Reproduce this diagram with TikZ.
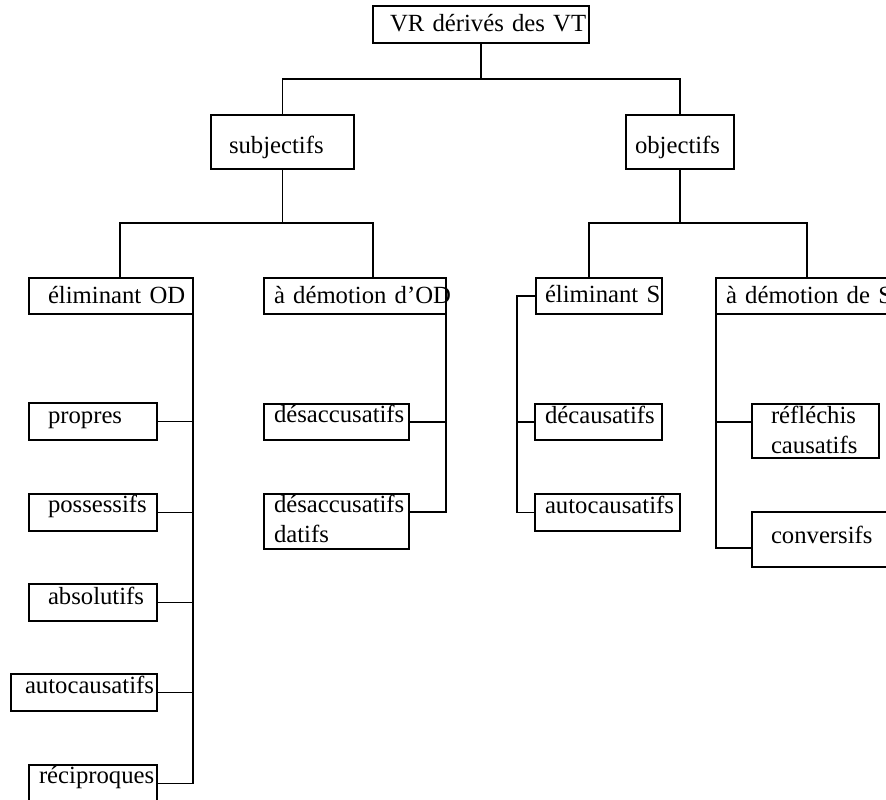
\documentclass[tikz,border=0pt]{standalone}
\usepackage{fontspec}
\setmainfont{Liberation Serif}
\begin{document}
\begin{tikzpicture}[x=1pt,y=-1pt,
  box/.style={draw, line width=1.3pt, rectangle, inner sep=0pt, outer sep=0pt,
    anchor=north west, align=left, font=\fontsize{24.7}{30}\selectfont},
  conn/.style={line width=1.3pt}]
\useasboundingbox (0,0) rectangle (886,800);
\clip (0,0) rectangle (886,800);
% level 0 and 1
\node[box, text width=216pt, text height=26pt, text depth=11pt] (top) at (373,6) {\hspace*{17pt}VR dérivés des VT};
\node[box, text width=143pt, text height=38pt, text depth=16pt] (subj) at (211,115) {\hspace*{18pt}subjectifs};
\node[box, text width=108pt, text height=38pt, text depth=16pt] (obj) at (626,115) {\hspace*{9pt}objectifs};
% level 2
\node[box, text width=164pt, text height=25pt, text depth=11pt] (elimOD) at (29,278) {\hspace*{19pt}éliminant OD};
\node[box, text width=182pt, text height=25pt, text depth=11pt] (demOD) at (264,278) {\mbox{\hspace*{10pt}à démotion d’OD}};
\node[box, text width=126pt, text height=24pt, text depth=12pt] (elimS) at (536,278) {\hspace*{9pt}éliminant S};
\node[box, text width=190pt, text height=25pt, text depth=11pt] (demS) at (716,278) {\mbox{\hspace*{10pt}à démotion de S}};
% leaves under elimOD
\node[box, text width=128pt, text height=20pt, text depth=17pt] (propres) at (29,403) {\hspace*{19pt}propres};
\node[box, text width=128pt, text height=18pt, text depth=19pt] (poss) at (29,494) {\hspace*{19pt}possessifs};
\node[box, text width=128pt, text height=20pt, text depth=17pt] (absol) at (29,584) {\hspace*{19pt}absolutifs};
\node[box, text width=146pt, text height=19pt, text depth=18pt] (autoL) at (11,674) {\mbox{\hspace*{14pt}autocausatifs}};
\node[box, text width=128pt, text height=18pt, text depth=19pt] (recip) at (29,765) {\mbox{\hspace*{10pt}réciproques}};
% leaves under demOD
\node[box, text width=145pt, text height=18pt, text depth=18pt] (desacc) at (264,404) {\mbox{\hspace*{10pt}désaccusatifs}};
\node[box, text width=145pt, text height=18pt, text depth=37pt] (dd) at (264,494) {\mbox{\hspace*{10pt}désaccusatifs}\\\hspace*{10pt}datifs};
% leaves under elimS
\node[box, text width=127pt, text height=19pt, text depth=17pt] (decaus) at (535,404) {\hspace*{10pt}décausatifs};
\node[box, text width=145pt, text height=19pt, text depth=18pt] (autoR) at (535,494) {\mbox{\hspace*{10pt}autocausatifs}};
% leaves under demS
\node[box, text width=127pt, text height=19pt, text depth=35pt] (refl) at (752,404) {\hspace*{19pt}réfléchis\\\hspace*{19pt}causatifs};
\node[box, text width=150pt, text height=31pt, text depth=24pt] (conv) at (752,512) {\hspace*{19pt}conversifs};
% junction coordinates
\coordinate (b1L) at (283,79);
\coordinate (b1R) at (680,79);
\coordinate (b2L) at (120,223);
\coordinate (b2R) at (373,223);
\coordinate (b3L) at (589,223);
\coordinate (b3R) at (807,223);
\coordinate (spineS) at (517,296);
% connectors
\draw[conn] (top.south) -- (top.south |- b1L);
\draw[conn] (subj.north) -- (subj.north |- b1L) -- (obj.north |- b1R) -- (obj.north);
\draw[conn] (subj.south) -- (subj.south |- b2L);
\draw[conn] (b2L |- elimOD.north) -- (b2L) -- (b2R) -- (b2R |- demOD.north);
\draw[conn] (obj.south) -- (obj.south |- b3L);
\draw[conn] (b3L |- elimS.north) -- (b3L) -- (b3R) -- (b3R |- demS.north);
% elimOD spine
\draw[conn] (elimOD.south east) |- (recip.east);
\draw[conn] (propres.east) -- (propres.east -| elimOD.south east);
\draw[conn] (poss.east) -- (poss.east -| elimOD.south east);
\draw[conn] (absol.east) -- (absol.east -| elimOD.south east);
\draw[conn] (autoL.east) -- (autoL.east -| elimOD.south east);
% demOD spine
\draw[conn] (demOD.south east) |- ([yshift=-18pt]dd.north east);
\draw[conn] (desacc.east) -- (desacc.east -| demOD.south east);
% elimS spine
\draw[conn] (elimS.west) -- (spineS) |- (autoR.west);
\draw[conn] (decaus.west) -- (decaus.west -| spineS);
% demS spine
\draw[conn] (demS.south west) |- ([yshift=-36pt]conv.north west);
\draw[conn] ([yshift=-18pt]refl.north west) -- ([yshift=-18pt]refl.north west -| demS.south west);
\end{tikzpicture}
\end{document}
